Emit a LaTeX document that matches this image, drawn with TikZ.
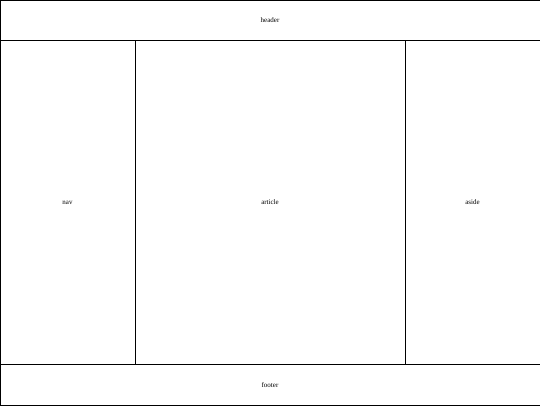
\documentclass[tikz,border=0pt]{standalone}
\usepackage{fontspec}
\setmainfont{Liberation Serif}
\usetikzlibrary{positioning}

\tikzset{
    region/.style={draw, line width=0.8pt, inner sep=0pt, outer sep=0pt, font=\fontsize{7}{8}\selectfont},
}

\begin{document}
\begin{tikzpicture}[x=1pt, y=1pt]
    \useasboundingbox (0, 0) rectangle (540, 405);

    % Header and footer
    \node [region, minimum width=540pt, minimum height=40.5pt] (header) at (270, 384.75) {header};
    \node [region, minimum width=540pt, minimum height=40.5pt] (footer) at (270, 20.25) {footer};

    % Middle columns
    \node [region, minimum width=135pt, minimum height=324pt] (nav) at (67.5, 202.5) {nav};
    \node [region, minimum width=270pt, minimum height=324pt, right=0pt of nav] (article) {article};
    \node [region, minimum width=135pt, minimum height=324pt, right=0pt of article] (aside) {aside};
\end{tikzpicture}
\end{document}
